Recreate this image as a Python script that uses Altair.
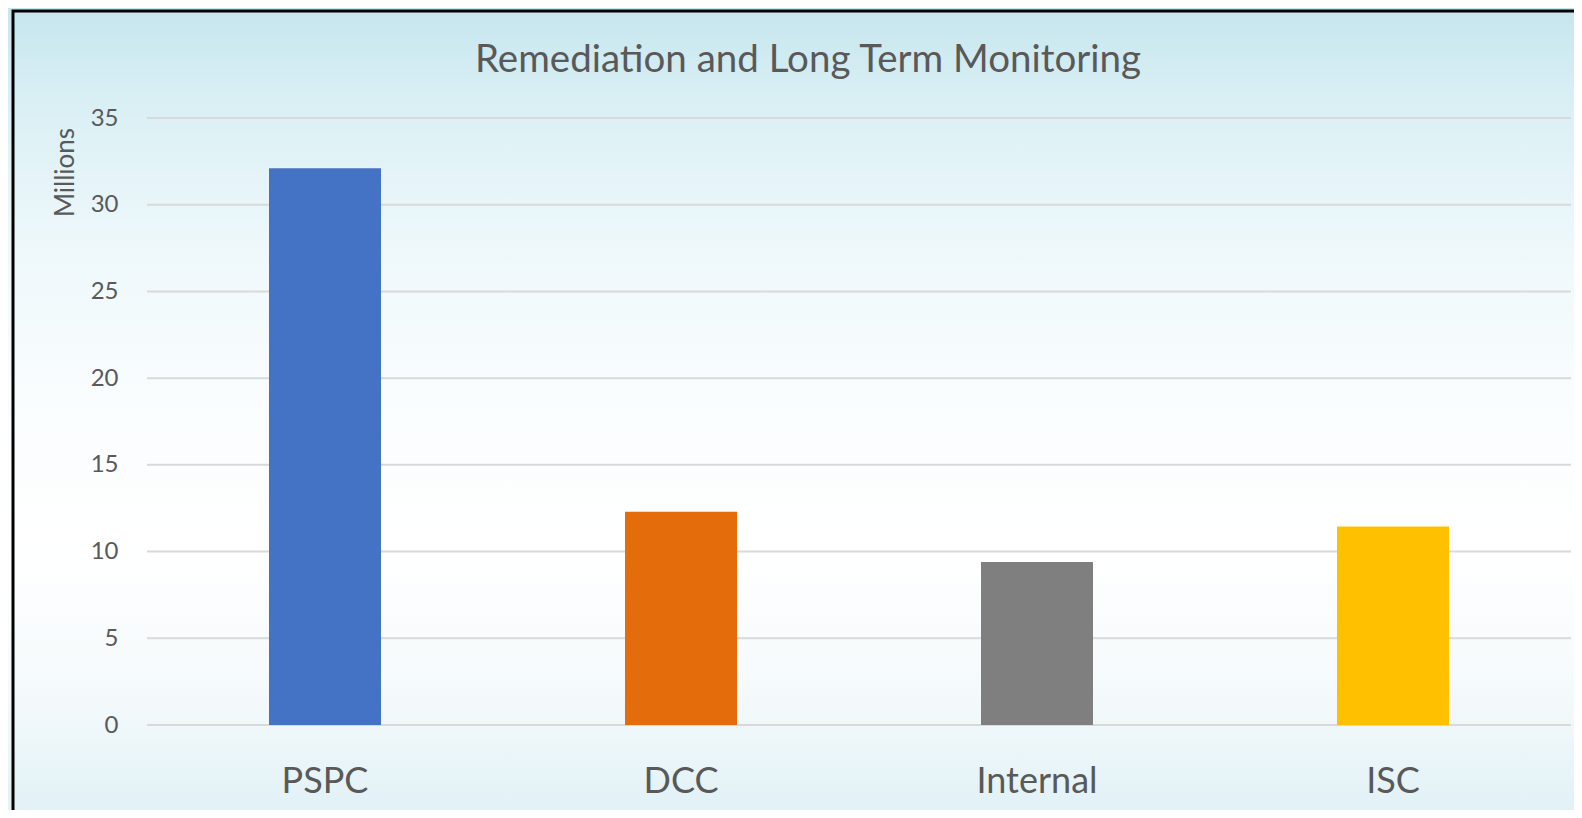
import altair as alt
import pandas as pd

# ---- data ----
categories = ["PSPC", "DCC", "Internal", "ISC"]
values = [32.1, 12.3, 9.4, 11.45]
bar_colors = ["#4472C4", "#E46C0A", "#7F7F7F", "#FFC000"]
y_ticks = [0, 5, 10, 15, 20, 25, 30, 35]
title_text = ["Remediation and Long Term Monitoring"]
y_title = "Millions"

df = pd.DataFrame({"category": categories, "value": values, "color": bar_colors})
grid_df = pd.DataFrame({"tick": y_ticks})
title_df = pd.DataFrame({"t": title_text})

W, H = 1424, 607
PAD_L, PAD_T = 139, 110
FONT = "Lato"
TXT = "#595959"

y_scale = alt.Scale(domain=[0, 35], nice=False, zero=True)

y_axis = alt.Axis(
    values=y_ticks, title=y_title, grid=False, ticks=False, domain=False,
    labelFont=FONT, labelFontSize=24, labelColor=TXT, labelPadding=29,
    titleFont=FONT, titleFontSize=26, titleFontWeight="normal",
    titleColor=TXT, titleX=-82, titleY=54, titleAngle=270,
    titleAlign="center", titleBaseline="middle", zindex=1,
)

bg = alt.Chart(alt.Data(values=[{}])).mark_rect(
    clip=False,
    fill=alt.Gradient(
        gradient="linear",
        x1=0, y1=0, x2=0, y2=1,
        stops=[
            alt.GradientStop(color="#c4e5ee", offset=0.0),
            alt.GradientStop(color="#d9eff4", offset=0.12),
            alt.GradientStop(color="#eef8fb", offset=0.3),
            alt.GradientStop(color="#fafdfe", offset=0.5),
            alt.GradientStop(color="#ffffff", offset=0.68),
            alt.GradientStop(color="#f3f9fb", offset=0.86),
            alt.GradientStop(color="#e0f1f6", offset=1.0),
        ],
    ),
).encode(
    x=alt.value(-PAD_L - 8), x2=alt.value(1440),
    y=alt.value(-PAD_T - 8), y2=alt.value(700),
)

grid = alt.Chart(grid_df).mark_rule(color="#d9d9d9", strokeWidth=2).encode(
    y=alt.Y("tick:Q", scale=y_scale, axis=y_axis, title=y_title)
)

bars = alt.Chart(df).mark_bar(size=112).encode(
    x=alt.X(
        "category:N",
        sort=categories,
        scale=alt.Scale(paddingInner=0, paddingOuter=0),
        axis=alt.Axis(
            title=None, labelAngle=0, labelFont=FONT, labelFontSize=36,
            labelColor=TXT, labelPadding=39, ticks=False, domain=False,
            grid=False, zindex=1,
        ),
    ),
    y=alt.Y("value:Q", scale=y_scale, axis=y_axis, title=y_title),
    color=alt.Color("color:N", scale=None, legend=None),
)

title = alt.Chart(title_df).mark_text(
    font=FONT, fontSize=38.5, color=TXT, align="center", baseline="alphabetic"
).encode(x=alt.value(661), y=alt.value(-46), text="t:N")

frame = alt.Chart(alt.Data(values=[{}])).mark_rect(
    clip=False, fill="transparent", stroke="black", strokeWidth=3
).encode(
    x=alt.value(-134), x2=alt.value(1520),
    y=alt.value(-107), y2=alt.value(780),
)

chart = alt.layer(bg, grid, bars, title, frame).properties(
    width=W,
    height=H,
    autosize=alt.AutoSizeParams(type="none"),
    padding={"left": PAD_L, "top": PAD_T, "right": 3, "bottom": 85},
).configure_view(strokeWidth=0).configure(font=FONT, background="white")

chart.save("out.html", embed_options={"renderer": "svg", "actions": False})
